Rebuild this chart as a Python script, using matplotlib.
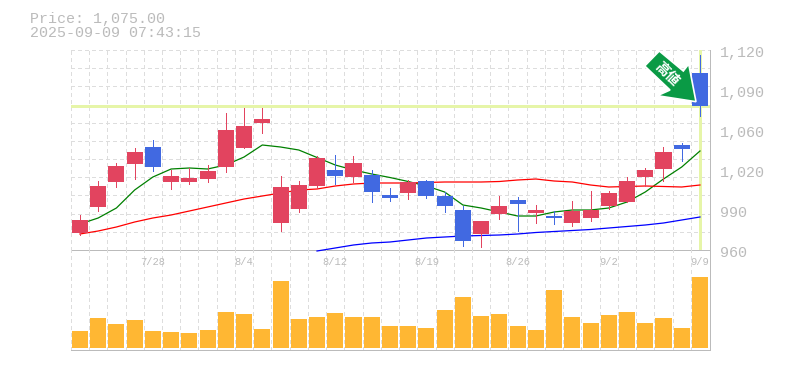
import numpy as np
import matplotlib
matplotlib.use('Agg')
import matplotlib.pyplot as plt
from matplotlib.patches import Polygon

# 価格データ (読み取り値)
dates = ['7/28', '8/4', '8/12', '8/19', '8/26', '9/2', '9/9']
date_idx = [4, 9, 14, 19, 24, 29, 34]

opens = [973.6, 994.4, 1014.4, 1028.8, 1042.4, 1014.4, 1014.4, 1016.8, 1026.4, 1041.6, 1061.6, 981.6,
         992.8, 1011.2, 1024, 1018.4, 1020, 1004, 1005.6, 1015.2, 1003.2, 992, 972.8, 988.8,
         1000, 989.6, 987.2, 981.6, 985.6, 995.2, 998.4, 1018.4, 1024.8, 1044, 1101.6]
closes = [984, 1011.2, 1027.2, 1038.4, 1026.4, 1019.2, 1017.6, 1023.2, 1056, 1059.2, 1064.8, 1010.4,
          1012, 1033.6, 1019.2, 1029.6, 1006.4, 1001.6, 1014.4, 1003.2, 995.2, 967.2, 983.2, 995.2,
          996.8, 992, 985.6, 991.2, 992, 1005.6, 1015.2, 1024, 1038.4, 1040.8, 1075]
highs = [988, 1015.2, 1029.6, 1041.6, 1048, 1024, 1025.6, 1028, 1069.6, 1073.6, 1073.6, 1019.2,
         1015.2, 1035.2, 1036, 1035.2, 1024, 1009.6, 1016, 1016, 1006.4, 995.2, 983.2, 1003.2,
         1002.4, 996, 991.2, 999.2, 1007.2, 1007.2, 1018.4, 1025.6, 1042.4, 1045.6, 1116]
lows = [972, 991.2, 1010.4, 1016.8, 1023.2, 1008.8, 1012.8, 1014.4, 1022.4, 1041.6, 1053.6, 975.2,
        990.4, 1009.6, 1012.8, 1014.4, 998.4, 999.2, 1000.8, 1001.6, 990.4, 963.2, 962.4, 984.8,
        975.2, 981.6, 980.8, 979.2, 983.2, 992.8, 998.4, 1011.2, 1015.2, 1031.2, 1067.2]

ma_green = [980.8, 985.6, 993.6, 1008, 1018.4, 1024.8, 1025.6, 1024.8, 1028, 1034.4, 1044, 1042.4,
            1040, 1034, 1028, 1024, 1020.8, 1018, 1014.8, 1011.2, 1006.4, 996, 993.6, 990.4,
            987.2, 987.2, 990.4, 992, 992, 993.6, 998.4, 1006.4, 1016.8, 1026.4, 1039.2]
ma_red = [972.8, 975.2, 978.4, 982.4, 985.6, 988, 991.2, 994.4, 997.6, 1000.8, 1003.2, 1005.6,
          1008, 1008.8, 1011.2, 1012.8, 1013.6, 1013.6, 1013.6, 1014, 1014.4, 1014.4, 1014.4, 1014.8,
          1016, 1016.8, 1015.2, 1014.4, 1012, 1010.4, 1010.8, 1011.2, 1010.8, 1010.4, 1012]
ma_blue = [np.nan] * 13 + [959.2, 961.6, 964, 965.6, 966.4, 968, 969.6, 970.4, 971.2, 971.6, 972,
                           972.8, 974, 974.8, 975.6, 976.4, 977.6, 978.8, 980, 981.6, 984, 986.4]

volume = [17, 30, 24, 28, 17, 16, 15, 18, 36, 34, 19, 67, 29, 31, 35, 31, 31, 22,
          22, 20, 38, 51, 32, 34, 22, 18, 58, 31, 25, 33, 36, 25, 30, 20, 71]

price_ticks = [1120, 1090, 1060, 1020, 990, 960]
tick_pos = [1120, 1088, 1056, 1024, 992, 960]
last_price = 1075

W, H = 785, 370
BORDER = '#bbbbbb'
GRID = '#dddddd'
TXT = '#bbbbbb'
RED = '#e2445f'
BLUE = '#4169e1'
HILITE = '#e6f5a8'
px = 0.72  # 1 pixel in points at dpi 100
plt.rcParams['font.family'] = ['Liberation Mono', 'DejaVu Sans Mono']


def fx(x):
    return x / W


def fy(y):
    return 1 - y / H


fig = plt.figure(figsize=(W / 100, H / 100), dpi=100)
ax = fig.add_axes([fx(71), fy(250), fx(710 - 71), fy(50) - fy(250)])
vax = fig.add_axes([fx(71), fy(349.5), fx(710 - 71), fy(250) - fy(349.5)])

x = np.arange(len(opens))
xlim = (-0.49, 34.55)

for a in (ax, vax):
    a.set_xlim(xlim)
    a.set_xticks([])
    a.set_yticks([])
    a.patch.set_alpha(0)
    for s in a.spines.values():
        s.set_visible(False)
    for side in ('right', 'bottom'):
        a.spines[side].set_visible(True)
        a.spines[side].set_color(BORDER)
        a.spines[side].set_linewidth(px)
    a.vlines(x - 0.5, 0, 1, transform=a.get_xaxis_transform(), color=GRID, lw=px,
             linestyles=(0, (4, 3)), zorder=1, antialiased=False)

ax.set_ylim(960, 1120)
ax.hlines(np.linspace(960, 1120, 12), 0, 1, transform=ax.get_yaxis_transform(),
          color=GRID, lw=px, linestyles=(0, (4, 3)), zorder=1, antialiased=False)

# 現在値ライン
ax.axhline(last_price, color=HILITE, lw=3 * px, zorder=2)
ax.axvline(x[-1], color=HILITE, lw=3 * px, zorder=2)

# 移動平均
ax.plot(x, ma_green, color='#008000', lw=0.9, zorder=3)
ax.plot(x, ma_red, color='#ff0000', lw=0.9, zorder=3)
ax.plot(x, ma_blue, color='#0000ff', lw=0.9, zorder=3, clip_on=False)

# ローソク足
for i in x:
    c = RED if closes[i] >= opens[i] else BLUE
    ax.vlines(i, lows[i], highs[i], color=c, lw=px, zorder=4, antialiased=False)
    ax.bar(i, abs(closes[i] - opens[i]), bottom=min(opens[i], closes[i]), width=0.88,
           color=c, zorder=4)

# 出来高
vax.bar(x, volume, width=0.88, color='#ffb733', zorder=3)
vax.set_ylim(-1.5, 98)

# 右の目盛り
for p, t in zip(price_ticks, tick_pos):
    ax.annotate(f'{p:,}', (1, t), xycoords=ax.get_yaxis_transform(), xytext=(7.2, -2.16),
                textcoords='offset points', color=TXT, fontsize=10.8, ha='left', va='center',
                annotation_clip=False)

for d, i in zip(dates, date_idx):
    vax.text(i, 1 - 12 / 99.5, d, transform=vax.get_xaxis_transform(), color=TXT, fontsize=7.5,
             ha='center', va='center', zorder=6)

fig.text(fx(30), fy(18.5), 'Price: 1,075.00', color=TXT, fontsize=10.8, ha='left', va='center')
fig.text(fx(30), fy(33), '2025-09-09 07:43:15', color=TXT, fontsize=10.8, ha='left', va='center')

# 矢印マーク
arrow = [(659.3, 51), (644.7, 66), (670, 90), (657.3, 95.7), (696, 101.7), (688.7, 64), (683.3, 71)]
fig.add_artist(Polygon([(fx(a), fy(b)) for a, b in arrow], closed=True, transform=fig.transFigure,
                       facecolor='#0a9a45', edgecolor='white', lw=1.2, zorder=10))
fig.text(fx(666.5), fy(74), '高値', color='white', fontsize=10, fontweight='bold', rotation=-45,
         ha='center', va='center', family=['Noto Sans CJK JP', 'DejaVu Sans'], zorder=11,
         rotation_mode='anchor')

fig.savefig('out.png', dpi=100, facecolor='white')
